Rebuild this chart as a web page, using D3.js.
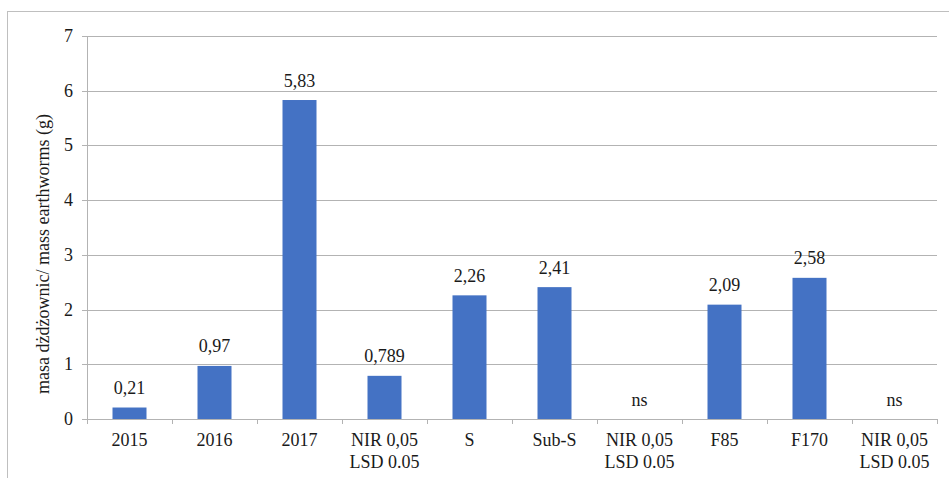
<!DOCTYPE html>
<html>
<head>
<meta charset="utf-8">
<script src="https://cdn.jsdelivr.net/npm/d3@7"></script>
<style>
  html, body { margin: 0; padding: 0; background: #fff; }
</style>
</head>
<body>
<svg id="chart" width="949" height="478" font-family="'Times New Roman', 'Liberation Serif', 'DejaVu Serif', serif"></svg>
<script>
const categories = [["2015"], ["2016"], ["2017"], ["NIR 0,05", "LSD 0.05"], ["S"], ["Sub-S"], ["NIR 0,05", "LSD 0.05"], ["F85"], ["F170"], ["NIR 0,05", "LSD 0.05"]];
const values = [0.21, 0.97, 5.83, 0.789, 2.26, 2.41, null, 2.09, 2.58, null];
const valueLabels = ["0,21", "0,97", "5,83", "0,789", "2,26", "2,41", "ns", "2,09", "2,58", "ns"];
const yTicks = [0, 1, 2, 3, 4, 5, 6, 7];
const yTitle = "masa dżdżownic/ mass earthworms (g)";

const FONT = "'Times New Roman', 'Liberation Serif', 'DejaVu Serif', serif";
const TXT = "#1a1a1a";
const FS = 18;
const svg = d3.select("#chart");
const m = { left: 87, right: 937, top: 36, bottom: 419 };

// outer frame
svg.append("rect").attr("x", 7.5).attr("y", 11.5).attr("width", 960).attr("height", 500)
  .attr("fill", "none").attr("stroke", "#bfbfbf").attr("stroke-width", 1);

const idx = d3.range(categories.length);
const x = d3.scaleBand().domain(idx).range([m.left, m.right]).paddingInner(0.6).paddingOuter(0.3);
const xb = d3.scaleBand().domain(idx).range([m.left, m.right]);
const y = d3.scaleLinear().domain([0, 7]).range([m.bottom, m.top]);

// gridlines
svg.append("g").selectAll("line").data(yTicks.filter(d => d > 0)).join("line")
  .attr("x1", m.left).attr("x2", m.right)
  .attr("y1", d => Math.round(y(d)) + 0.5).attr("y2", d => Math.round(y(d)) + 0.5)
  .attr("stroke", "#b3b3b3").attr("stroke-width", 1);

// y axis line
svg.append("line").attr("x1", m.left + 0.5).attr("x2", m.left + 0.5)
  .attr("y1", m.top).attr("y2", m.bottom).attr("stroke", "#b3b3b3");
svg.append("g").selectAll("line").data(yTicks).join("line")
  .attr("x1", m.left - 5).attr("x2", m.left)
  .attr("y1", d => Math.round(y(d)) + 0.5).attr("y2", d => Math.round(y(d)) + 0.5)
  .attr("stroke", "#b3b3b3");
svg.append("g").selectAll("text").data(yTicks).join("text")
  .attr("font-family", FONT).attr("fill", TXT)
  .attr("x", 73).attr("y", d => y(d)).attr("dy", "0.33em")
  .attr("text-anchor", "end").attr("font-size", FS).text(d => d);

// bars
svg.append("g").selectAll("rect").data(idx.filter(i => values[i] != null)).join("rect")
  .attr("x", i => x(i)).attr("width", x.bandwidth())
  .attr("y", i => y(values[i])).attr("height", i => y(0) - y(values[i]))
  .attr("fill", "#4472C4");

// x axis line
svg.append("line").attr("x1", m.left).attr("x2", m.right)
  .attr("y1", m.bottom + 0.5).attr("y2", m.bottom + 0.5).attr("stroke", "#b3b3b3");
svg.append("g").selectAll("line").data(d3.range(categories.length + 1)).join("line")
  .attr("x1", i => Math.round(m.left + i * xb.step()) + 0.5)
  .attr("x2", i => Math.round(m.left + i * xb.step()) + 0.5)
  .attr("y1", m.bottom).attr("y2", m.bottom + 5).attr("stroke", "#b3b3b3");

// category labels
const cl = svg.append("g").selectAll("text").data(idx).join("text")
  .attr("font-family", FONT).attr("fill", TXT)
  .attr("text-anchor", "middle").attr("font-size", FS)
  .attr("x", i => xb(i) + xb.bandwidth() / 2).attr("y", 446);
cl.selectAll("tspan").data(i => categories[i].map(t => ({ t, i }))).join("tspan")
  .attr("x", d => xb(d.i) + xb.bandwidth() / 2)
  .attr("dy", (d, k) => k === 0 ? 0 : 21.5).text(d => d.t);

// data labels
svg.append("g").selectAll("text").data(idx).join("text")
  .attr("font-family", FONT).attr("fill", TXT)
  .attr("text-anchor", "middle").attr("font-size", FS)
  .attr("x", i => xb(i) + xb.bandwidth() / 2)
  .attr("y", i => y(values[i] == null ? 0 : values[i]) - 13.5)
  .text(i => valueLabels[i]);

// y title
svg.append("text").attr("font-family", FONT).attr("fill", TXT)
  .attr("transform", "translate(49,254) rotate(-90)")
  .attr("text-anchor", "middle").attr("font-size", FS).text(yTitle);
</script>
</body>
</html>
